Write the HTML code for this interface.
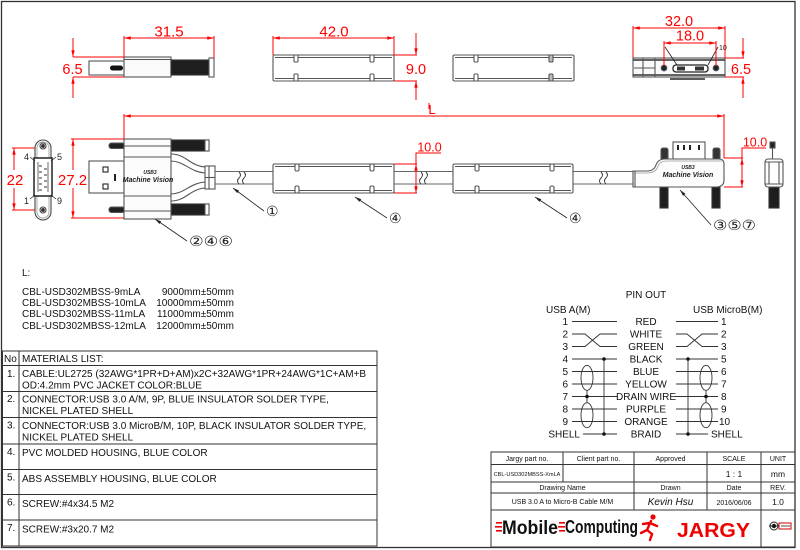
<!DOCTYPE html>
<html><head><meta charset="utf-8"><style>
html,body{margin:0;padding:0;background:#fff;}
svg{display:block;}
text{font-family:"Liberation Sans",Arial,sans-serif;}
</style></head><body>
<svg width="800" height="550" viewBox="0 0 800 550" xmlns="http://www.w3.org/2000/svg">
<defs>
<marker id="ar" viewBox="0 0 8 4" refX="8" refY="2" markerWidth="7" markerHeight="3.4" markerUnits="userSpaceOnUse" orient="auto-start-reverse"><path d="M0,0 L8,2 L0,4 z" fill="#f00"/></marker>
<marker id="ab" viewBox="0 0 8 4" refX="8" refY="2" markerWidth="7" markerHeight="3.2" markerUnits="userSpaceOnUse" orient="auto-start-reverse"><path d="M0,0 L8,2 L0,4 z" fill="#222"/></marker>
</defs>
<rect x="0" y="0" width="800" height="550" fill="#fff"/>
<rect x="1.5" y="1.5" width="793.5" height="546" fill="none" stroke="#333" stroke-width="1.3"/>

<!-- ===== TOP ROW ===== -->
<g stroke="#555" stroke-width="1.1" fill="#fff">
  <!-- USB A side view -->
  <rect x="89" y="61" width="35" height="14"/>
  <rect x="110" y="65.5" width="13" height="5" rx="2.5" fill="#111" stroke="none"/>
  <rect x="124" y="57" width="47" height="20" fill="#fafafa"/>
  <line x1="124" y1="59.5" x2="171" y2="59.5"/>
  <rect x="171" y="60" width="38" height="15" fill="#1e1e1e" stroke="#333"/>
  <rect x="209" y="58" width="5" height="19"/>
  <!-- housing top 1 -->
  <rect x="273" y="55" width="121" height="26" rx="1.5"/>
  <line x1="275" y1="57.5" x2="392" y2="57.5"/><line x1="275" y1="78.5" x2="392" y2="78.5"/>
  <rect x="294" y="55" width="4" height="7" rx="1"/><rect x="294" y="74" width="4" height="7" rx="1"/>
  <rect x="370" y="55" width="4" height="7" rx="1"/><rect x="370" y="74" width="4" height="7" rx="1"/>
  <!-- housing top 2 -->
  <rect x="453" y="55" width="121" height="26" rx="1.5"/>
  <line x1="455" y1="57.5" x2="572" y2="57.5"/><line x1="455" y1="78.5" x2="572" y2="78.5"/>
  <rect x="474" y="55" width="4" height="7" rx="1"/><rect x="474" y="74" width="4" height="7" rx="1"/>
  <rect x="549" y="55" width="4" height="7" rx="1" fill="#bbb"/><rect x="549" y="74" width="4" height="7" rx="1" fill="#bbb"/>
  <!-- micro-B top view -->
  <rect x="633" y="58" width="92" height="19" fill="#fafafa"/>
  <line x1="633" y1="60" x2="725" y2="60" stroke="#333" stroke-width="1.6"/>
  <line x1="633" y1="75" x2="725" y2="75" stroke="#333" stroke-width="1.6"/>
  <line x1="643" y1="58" x2="643" y2="77"/><line x1="655" y1="58" x2="655" y2="77"/>
  <line x1="634" y1="68" x2="655" y2="68"/>
  <circle cx="664" cy="68" r="2.8" fill="#222"/><circle cx="716" cy="68" r="2.8" fill="#222"/>
  <rect x="673" y="65" width="35" height="7" rx="3" fill="#fff" stroke="#222" stroke-width="1.3"/>
  <rect x="677" y="66.5" width="8" height="4" fill="#333" stroke="none"/>
  <rect x="695" y="66.5" width="9" height="4" fill="#333" stroke="none"/>
  <line x1="670" y1="79" x2="705" y2="79" stroke="#444" stroke-width="1.8"/>
</g>
<g stroke="#222" stroke-width="0.8">
  <line x1="665" y1="47" x2="677" y2="65"/><line x1="718" y1="47" x2="708" y2="65"/>
</g>
<text x="719" y="50" font-size="7" fill="#222">10</text>

<!-- red dims top -->
<g stroke="#f00" stroke-width="1" fill="none">
  <line x1="124" y1="38" x2="214" y2="38" marker-start="url(#ar)" marker-end="url(#ar)"/>
  <line x1="124" y1="36" x2="124" y2="57"/><line x1="214" y1="36" x2="214" y2="58"/>
  <line x1="73" y1="57" x2="124" y2="57"/><line x1="73" y1="77" x2="124" y2="77"/>
  <line x1="73" y1="38" x2="73" y2="57" marker-end="url(#ar)"/>
  <line x1="73" y1="98" x2="73" y2="77" marker-end="url(#ar)"/>

  <line x1="273" y1="38" x2="394" y2="38" marker-start="url(#ar)" marker-end="url(#ar)"/>
  <line x1="273" y1="36" x2="273" y2="55"/><line x1="394" y1="36" x2="394" y2="55"/>
  <line x1="394" y1="55" x2="417" y2="55"/><line x1="394" y1="81" x2="417" y2="81"/>
  <line x1="416" y1="33" x2="416" y2="55" marker-end="url(#ar)"/>
  <line x1="416" y1="100" x2="416" y2="81" marker-end="url(#ar)"/>

  <line x1="633" y1="28" x2="725" y2="28" marker-start="url(#ar)" marker-end="url(#ar)"/>
  <line x1="633" y1="26" x2="633" y2="58"/><line x1="725" y1="26" x2="725" y2="58"/>
  <line x1="664" y1="43" x2="716" y2="43" marker-start="url(#ar)" marker-end="url(#ar)"/>
  <line x1="664" y1="41" x2="664" y2="66"/><line x1="716" y1="41" x2="716" y2="66"/>
  <line x1="725" y1="58" x2="744" y2="58"/><line x1="725" y1="77" x2="744" y2="77"/>
  <line x1="743" y1="38" x2="743" y2="58" marker-end="url(#ar)"/>
  <line x1="743" y1="98" x2="743" y2="77" marker-end="url(#ar)"/>

  <!-- L -->
  <line x1="124" y1="116" x2="724" y2="116" marker-start="url(#ar)" marker-end="url(#ar)"/>
  <line x1="124" y1="114" x2="124" y2="139"/><line x1="724" y1="114" x2="724" y2="158"/>
  <line x1="429" y1="103" x2="429" y2="109"/>

  <!-- 22 / 27.2 -->
  <line x1="12" y1="148" x2="40" y2="148"/><line x1="12" y1="210" x2="40" y2="210"/>
  <line x1="14" y1="170" x2="14" y2="148" marker-end="url(#ar)"/>
  <line x1="14" y1="188" x2="14" y2="210" marker-end="url(#ar)"/>
  <line x1="71" y1="139" x2="124" y2="139"/><line x1="71" y1="218" x2="124" y2="218"/>
  <line x1="73" y1="170" x2="73" y2="139" marker-end="url(#ar)"/>
  <line x1="73" y1="188" x2="73" y2="218" marker-end="url(#ar)"/>

  <!-- 10.0 mid -->
  <line x1="394" y1="164" x2="417" y2="164"/><line x1="394" y1="193" x2="417" y2="193"/>
  <line x1="416" y1="178" x2="416" y2="164" marker-end="url(#ar)"/>
  <line x1="416" y1="178" x2="416" y2="193" marker-end="url(#ar)"/>
  <polyline points="416,164 416,153 441,153"/>
  <!-- 10.0 right -->
  <line x1="724" y1="158" x2="743" y2="158"/><line x1="724" y1="187" x2="743" y2="187"/>
  <line x1="742" y1="172" x2="742" y2="158" marker-end="url(#ar)"/>
  <line x1="742" y1="172" x2="742" y2="187" marker-end="url(#ar)"/>
  <polyline points="742,158 742,148 766,148"/>
</g>
<g fill="#f00" font-size="15" text-anchor="middle">
  <text x="169" y="36.5">31.5</text>
  <text x="72.5" y="74" font-size="14.5">6.5</text>
  <text x="334" y="36.5">42.0</text>
  <text x="416" y="74" font-size="14.5">9.0</text>
  <text x="679" y="26" font-size="14.5">32.0</text>
  <text x="690" y="40.5" font-size="14.5">18.0</text>
  <text x="741" y="74" font-size="14.5">6.5</text>
  <text x="432" y="114" font-size="13">L</text>
  <text x="15" y="185">22</text>
  <text x="72.5" y="185">27.2</text>
  <text x="429.5" y="151.5" font-size="12.5">10.0</text>
  <text x="755" y="146.5" font-size="12.5">10.0</text>
</g>

<!-- ===== MAIN ROW ===== -->
<!-- USB A end view -->
<g stroke="#444" stroke-width="1.1" fill="#fff">
  <rect x="35" y="140" width="16" height="80" rx="8"/>
  <rect x="37" y="142" width="12" height="76" rx="6" stroke="#888" stroke-width="0.7"/>
  <circle cx="43" cy="146" r="3"/><circle cx="43" cy="146" r="1.4" fill="#222"/>
  <circle cx="43" cy="210" r="3"/><circle cx="43" cy="210" r="1.4" fill="#222"/>
  <rect x="34" y="158" width="18" height="38" stroke="#222" stroke-width="1.5"/>
  <line x1="38" y1="162" x2="38" y2="192" stroke="#777"/><line x1="48" y1="162" x2="48" y2="192" stroke="#777"/>
  <line x1="39" y1="166" x2="42" y2="166"/><line x1="39" y1="172" x2="42" y2="172"/><line x1="39" y1="178" x2="42" y2="178"/><line x1="39" y1="184" x2="42" y2="184"/><line x1="39" y1="190" x2="42" y2="190"/>
  <line x1="44" y1="169" x2="47" y2="169"/><line x1="44" y1="175" x2="47" y2="175"/><line x1="44" y1="181" x2="47" y2="181"/><line x1="44" y1="187" x2="47" y2="187"/>
</g>
<g stroke="#222" stroke-width="0.7">
  <line x1="30" y1="157" x2="35" y2="161"/><line x1="56" y1="157" x2="51" y2="161"/>
  <line x1="30" y1="199" x2="35" y2="195"/><line x1="56" y1="199" x2="51" y2="195"/>
</g>
<g font-size="9" fill="#222">
  <text x="24" y="160">4</text><text x="57" y="160">5</text>
  <text x="24" y="204">1</text><text x="57" y="204">9</text>
</g>

<!-- USB A connector -->
<g stroke="#555" stroke-width="1.1" fill="#fff">
  <rect x="109" y="143" width="16" height="5.5" rx="2.5" fill="#222"/>
  <rect x="109" y="207" width="16" height="5.5" rx="2.5" fill="#222"/>
  <rect x="171" y="140" width="38" height="11" fill="#1e1e1e" stroke="#333"/>
  <rect x="171" y="204" width="38" height="11" fill="#1e1e1e" stroke="#333"/>
  <rect x="205" y="140" width="4" height="11" fill="#fff"/>
  <rect x="205" y="204" width="4" height="11" fill="#fff"/>
  <rect x="89" y="161" width="35" height="32"/>
  <rect x="103" y="167" width="5" height="5" fill="#fff" stroke="#222"/>
  <rect x="103" y="184" width="5" height="5" fill="#fff" stroke="#222"/>
  <rect x="114" y="174" width="2" height="7" fill="#222" stroke="none"/>
  <rect x="124" y="139" width="47" height="80" fill="#fcfcfc"/>
  <line x1="124" y1="146" x2="171" y2="146"/><line x1="124" y1="157" x2="171" y2="157"/>
  <line x1="124" y1="196" x2="171" y2="196"/><line x1="124" y1="211" x2="171" y2="211"/>
  <!-- branches -->
  <path d="M171,154 C186,154 190,166 205,167" fill="none"/>
  <path d="M171,161 C184,161 190,172 205,173" fill="none"/>
  <path d="M171,201 C186,201 190,189 205,188" fill="none"/>
  <path d="M171,194 C184,194 190,183 205,182" fill="none"/>
  <rect x="205" y="166" width="10" height="23"/>
  <line x1="209" y1="166" x2="209" y2="189"/><line x1="205" y1="177.5" x2="215" y2="177.5"/>
</g>
<text x="150" y="174" font-size="5" font-style="italic" font-weight="bold" text-anchor="middle" fill="#222">USB3</text>
<text x="148" y="182" font-size="7" font-style="italic" font-weight="bold" text-anchor="middle" fill="#222">Machine Vision</text>

<!-- cable -->
<g stroke="#666" stroke-width="1.1">
  <line x1="215" y1="171.5" x2="273" y2="171.5"/><line x1="215" y1="184" x2="273" y2="184"/>
  <line x1="394" y1="171.5" x2="453" y2="171.5"/><line x1="394" y1="184" x2="453" y2="184"/>
  <line x1="573" y1="171.5" x2="633" y2="171.5"/><line x1="573" y1="184" x2="633" y2="184"/>
</g>
<g stroke="#333" stroke-width="0.9" fill="none">
  <path d="M239,184 q-3,-3 0,-6 q3,-3 0,-6 M244,184 q-3,-3 0,-6 q3,-3 0,-6"/>
  <path d="M421,184 q-3,-3 0,-6 q3,-3 0,-6 M426,184 q-3,-3 0,-6 q3,-3 0,-6"/>
  <path d="M601,184 q-3,-3 0,-6 q3,-3 0,-6 M606,184 q-3,-3 0,-6 q3,-3 0,-6"/>
</g>

<!-- inline housings -->
<g stroke="#555" stroke-width="1.1" fill="#fff">
  <rect x="273" y="164" width="121" height="29" rx="1.5"/>
  <line x1="275" y1="166.5" x2="392" y2="166.5"/><line x1="275" y1="190.5" x2="392" y2="190.5"/>
  <rect x="295" y="164" width="4" height="7" rx="1.5"/><rect x="295" y="186" width="4" height="7" rx="1.5"/>
  <rect x="370" y="164" width="4" height="7" rx="1.5"/><rect x="370" y="186" width="4" height="7" rx="1.5"/>
  <rect x="453" y="164" width="120" height="29" rx="1.5"/>
  <line x1="455" y1="166.5" x2="571" y2="166.5"/><line x1="455" y1="190.5" x2="571" y2="190.5"/>
  <rect x="475" y="164" width="4" height="7" rx="1.5"/><rect x="475" y="186" width="4" height="7" rx="1.5"/>
  <rect x="550" y="164" width="4" height="7" rx="1.5"/><rect x="550" y="186" width="4" height="7" rx="1.5"/>
</g>

<!-- micro-B connector -->
<g stroke="#555" stroke-width="1.1" fill="#fff">
  <rect x="661" y="148" width="7" height="12" rx="2" fill="#333"/>
  <rect x="713" y="148" width="7" height="12" rx="2" fill="#333"/>
  <rect x="660" y="187" width="8" height="21" fill="#1e1e1e" stroke="#333"/>
  <rect x="712" y="187" width="8" height="21" fill="#1e1e1e" stroke="#333"/>
  <rect x="673" y="142" width="32" height="17"/>
  <rect x="677" y="145" width="2" height="5" fill="#222" stroke="none"/>
  <rect x="683" y="145" width="2" height="5" fill="#222" stroke="none"/>
  <rect x="689" y="145" width="2" height="5" fill="#222" stroke="none"/>
  <rect x="698" y="145" width="2" height="5" fill="#222" stroke="none"/>
  <path d="M633,171 L647,171 Q654,171 656,165 Q658,159 665,159 L719,159 Q724,159 724,164 L724,180 Q724,187 716,187 L633,187 Z" fill="#fcfcfc"/>
  <path d="M635,173 L647,173 Q656,173 658,166 Q660,161 666,161 L722,161" fill="none" stroke="#999" stroke-width="0.8"/>
  <line x1="635" y1="171" x2="635" y2="187"/>
</g>
<text x="688" y="169" font-size="5" font-style="italic" font-weight="bold" text-anchor="middle" fill="#222">USB3</text>
<text x="688" y="177" font-size="7" font-style="italic" font-weight="bold" text-anchor="middle" fill="#222">Machine Vision</text>

<!-- micro-B end view -->
<g stroke="#555" stroke-width="1.1" fill="#fff">
  <rect x="770" y="142" width="5" height="6" fill="#222"/>
  <line x1="772.5" y1="148" x2="772.5" y2="159"/>
  <rect x="769" y="187" width="10" height="21" fill="#1e1e1e" stroke="#333"/>
  <rect x="765" y="159" width="18" height="28" rx="3"/>
  <line x1="765" y1="162" x2="783" y2="162"/><line x1="765" y1="184" x2="783" y2="184"/>
  <line x1="769" y1="162" x2="769" y2="184"/><line x1="779" y1="162" x2="779" y2="184"/>
</g>

<!-- leaders -->
<g stroke="#222" stroke-width="0.8" fill="none">
  <line x1="187" y1="241" x2="155" y2="219" marker-end="url(#ab)"/>
  <line x1="264" y1="211" x2="233" y2="188" marker-end="url(#ab)"/>
  <line x1="387" y1="218" x2="355" y2="197" marker-end="url(#ab)"/>
  <line x1="567" y1="218" x2="535" y2="197" marker-end="url(#ab)"/>
  <line x1="711" y1="225" x2="680" y2="190" marker-end="url(#ab)"/>
</g>
<g font-family="'DejaVu Sans',sans-serif" font-size="14" fill="#222">
  <text x="189" y="246" textLength="44" lengthAdjust="spacingAndGlyphs">②④⑥</text>
  <text x="266" y="216">①</text>
  <text x="389" y="223">④</text>
  <text x="569" y="223">④</text>
  <text x="713" y="230" textLength="43" lengthAdjust="spacingAndGlyphs">③⑤⑦</text>
</g>

<!-- ===== L list ===== -->
<g font-size="10" fill="#111">
  <text x="22" y="276">L:</text>
  <text x="22" y="295">CBL-USD302MBSS-9mLA</text>
  <text x="22" y="306">CBL-USD302MBSS-10mLA</text>
  <text x="22" y="317">CBL-USD302MBSS-11mLA</text>
  <text x="22" y="329">CBL-USD302MBSS-12mLA</text>
  <g text-anchor="end">
    <text x="234" y="295">9000mm±50mm</text>
    <text x="234" y="306">10000mm±50mm</text>
    <text x="234" y="317">11000mm±50mm</text>
    <text x="234" y="329">12000mm±50mm</text>
  </g>
</g>

<!-- ===== PIN OUT ===== -->
<g font-size="10" fill="#111">
  <text x="646" y="298" text-anchor="middle">PIN OUT</text>
  <text x="546" y="313">USB A(M)</text>
  <text x="693" y="313">USB MicroB(M)</text>
  <g text-anchor="end">
    <text x="568" y="325">1</text><text x="568" y="337.5">2</text><text x="568" y="350">3</text>
    <text x="568" y="362.5">4</text><text x="568" y="375">5</text><text x="568" y="387.5">6</text>
    <text x="568" y="400">7</text><text x="568" y="412.5">8</text><text x="568" y="425">9</text>
    <text x="580" y="437.5">SHELL</text>
  </g>
  <g text-anchor="middle">
    <text x="646" y="325">RED</text><text x="646" y="337.5">WHITE</text><text x="646" y="350">GREEN</text>
    <text x="646" y="362.5">BLACK</text><text x="646" y="375">BLUE</text><text x="646" y="387.5">YELLOW</text>
    <text x="646" y="400">DRAIN WIRE</text><text x="646" y="412.5">PURPLE</text><text x="646" y="425">ORANGE</text>
    <text x="646" y="437.5">BRAID</text>
  </g>
  <text x="721" y="325">1</text><text x="721" y="337.5">2</text><text x="721" y="350">3</text>
  <text x="721" y="362.5">5</text><text x="721" y="375">6</text><text x="721" y="387.5">7</text>
  <text x="721" y="400">8</text><text x="721" y="412.5">9</text><text x="719" y="425">10</text>
  <text x="711" y="437.5">SHELL</text>
</g>
<g stroke="#333" stroke-width="0.9" fill="none">
  <line x1="572" y1="321.5" x2="617" y2="321.5"/><line x1="676" y1="321.5" x2="718" y2="321.5"/>
  <path d="M572,334 H585 L600,346.5 H617 M572,346.5 H585 L600,334 H617"/>
  <path d="M676,334 H687 L702,346.5 H718 M676,346.5 H687 L702,334 H718"/>
  <line x1="572" y1="359" x2="617" y2="359"/><line x1="676" y1="359" x2="718" y2="359"/>
  <line x1="572" y1="371.5" x2="617" y2="371.5"/><line x1="676" y1="371.5" x2="718" y2="371.5"/>
  <line x1="572" y1="384" x2="617" y2="384"/><line x1="676" y1="384" x2="718" y2="384"/>
  <line x1="572" y1="396.5" x2="618" y2="396.5"/><line x1="674" y1="396.5" x2="718" y2="396.5"/>
  <line x1="572" y1="409" x2="617" y2="409"/><line x1="676" y1="409" x2="718" y2="409"/>
  <line x1="572" y1="421.5" x2="617" y2="421.5"/><line x1="676" y1="421.5" x2="718" y2="421.5"/>
  <line x1="583" y1="434" x2="617" y2="434"/><line x1="676" y1="434" x2="708" y2="434"/>
  <line x1="604" y1="359" x2="604" y2="434"/><line x1="688" y1="359" x2="688" y2="434"/>
  <ellipse cx="587" cy="377.8" rx="6" ry="12.5"/><ellipse cx="587" cy="415.2" rx="6" ry="12.5"/>
  <line x1="587" y1="390.3" x2="587" y2="402.7"/>
  <ellipse cx="706" cy="377.8" rx="6" ry="12.5"/><ellipse cx="706" cy="415.2" rx="6" ry="12.5"/>
  <line x1="706" y1="390.3" x2="706" y2="402.7"/>
</g>
<g fill="#111">
  <circle cx="604" cy="359" r="1.8"/><circle cx="604" cy="434" r="1.8"/>
  <circle cx="688" cy="359" r="1.8"/><circle cx="688" cy="434" r="1.8"/>
  <circle cx="587" cy="396.5" r="1.8"/><circle cx="706" cy="396.5" r="1.8"/>
</g>

<!-- ===== MATERIALS TABLE ===== -->
<g stroke="#333" stroke-width="1" fill="none">
  <rect x="2.5" y="351" width="374.5" height="195"/>
  <line x1="2.5" y1="365.5" x2="377" y2="365.5"/>
  <line x1="2.5" y1="391.5" x2="377" y2="391.5"/>
  <line x1="2.5" y1="417.5" x2="377" y2="417.5"/>
  <line x1="2.5" y1="444" x2="377" y2="444"/>
  <line x1="2.5" y1="469.5" x2="377" y2="469.5"/>
  <line x1="2.5" y1="494.5" x2="377" y2="494.5"/>
  <line x1="2.5" y1="520" x2="377" y2="520"/>
  <line x1="19" y1="351" x2="19" y2="546"/>
</g>
<g font-size="10" fill="#111">
  <text x="4" y="362">No</text><text x="22" y="362">MATERIALS LIST:</text>
  <text x="7" y="377">1.</text>
  <text x="22" y="377">CABLE:UL2725 (32AWG*1PR+D+AM)x2C+32AWG*1PR+24AWG*1C+AM+B</text>
  <text x="22" y="388.5">OD:4.2mm   PVC JACKET COLOR:BLUE</text>
  <text x="7" y="402">2.</text>
  <text x="22" y="402.5">CONNECTOR:USB 3.0 A/M, 9P, BLUE INSULATOR SOLDER TYPE,</text>
  <text x="22" y="414">NICKEL PLATED SHELL</text>
  <text x="7" y="428.5">3.</text>
  <text x="22" y="429">CONNECTOR:USB 3.0 MicroB/M, 10P, BLACK INSULATOR SOLDER TYPE,</text>
  <text x="22" y="440.5">NICKEL PLATED SHELL</text>
  <text x="7" y="455">4.</text><text x="22" y="456">PVC MOLDED HOUSING, BLUE COLOR</text>
  <text x="7" y="480.5">5.</text><text x="22" y="482">ABS ASSEMBLY HOUSING, BLUE COLOR</text>
  <text x="7" y="505.5">6.</text><text x="22" y="507">SCREW:#4x34.5 M2</text>
  <text x="7" y="531">7.</text><text x="22" y="532.5">SCREW:#3x20.7 M2</text>
</g>

<!-- ===== TITLE BLOCK ===== -->
<g stroke="#333" stroke-width="1" fill="none">
  <rect x="491" y="452" width="304" height="95"/>
  <line x1="491" y1="464.5" x2="795" y2="464.5"/>
  <line x1="491" y1="482" x2="795" y2="482"/>
  <line x1="491" y1="493" x2="795" y2="493"/>
  <line x1="491" y1="510" x2="795" y2="510"/>
  <line x1="563" y1="452" x2="563" y2="482"/>
  <line x1="634" y1="452" x2="634" y2="510"/>
  <line x1="707" y1="452" x2="707" y2="510"/>
  <line x1="761" y1="452" x2="761" y2="547"/>
</g>
<g font-size="7" fill="#111" text-anchor="middle">
  <text x="527" y="461">Jargy part no.</text>
  <text x="598.5" y="461">Client part no.</text>
  <text x="670.5" y="461">Approved</text>
  <text x="734" y="461">SCALE</text>
  <text x="778" y="461">UNIT</text>
  <text x="527" y="476" font-size="5.6">CBL-USD302MBSS-XmLA</text>
  <text x="734" y="477" font-size="8.5">1 : 1</text>
  <text x="778" y="477" font-size="8.5">mm</text>
  <text x="562.5" y="490">Drawing Name</text>
  <text x="670.5" y="490">Drawn</text>
  <text x="734" y="490">Date</text>
  <text x="778" y="490">REV.</text>
  <text x="562.5" y="504">USB 3.0 A to Micro-B Cable M/M</text>
  <text x="670.5" y="505" font-family="'Liberation Serif',serif" font-style="italic" font-size="10">Kevin Hsu</text>
  <text x="734" y="505">2016/06/06</text>
  <text x="778" y="505" font-size="8.5">1.0</text>
</g>
<!-- logos -->
<g fill="#e00">
  <rect x="496" y="522" width="6" height="1.6"/><rect x="495" y="526" width="7" height="1.6"/><rect x="496" y="530" width="6" height="1.6"/>
  <rect x="559" y="522" width="6" height="1.6"/><rect x="558" y="526" width="7" height="1.6"/><rect x="559" y="530" width="6" height="1.6"/>
</g>
<text x="502" y="534" font-size="19" font-weight="bold" fill="#111" textLength="56" lengthAdjust="spacingAndGlyphs">Mobile</text>
<text x="565" y="533" font-size="18" font-weight="bold" fill="#111" textLength="73" lengthAdjust="spacingAndGlyphs">Computing</text>
<g stroke="#e00" stroke-width="2.4" fill="none" stroke-linecap="round">
  <circle cx="653" cy="517" r="2.6" fill="#e00" stroke="none"/>
  <path d="M651,521 L647,530 L641,533"/>
  <path d="M647,530 L652,534 L650,540"/>
  <path d="M650,523 L657,526 M650,523 L643,524"/>
</g>
<text x="677" y="537" font-size="20" font-weight="bold" fill="#e00" textLength="73" lengthAdjust="spacingAndGlyphs">JARGY</text>
<g>
  <circle cx="774" cy="526" r="4" fill="#fff" stroke="#222" stroke-width="1"/>
  <circle cx="774" cy="526" r="2.2" fill="#111"/>
  <line x1="769" y1="526" x2="779" y2="526" stroke="#222" stroke-width="1"/>
  <rect x="779" y="523" width="12" height="6" fill="#fff" stroke="#c00" stroke-width="1"/>
  <line x1="781" y1="526" x2="790" y2="526" stroke="#222" stroke-width="0.8"/>
</g>
</svg>
</body></html>
